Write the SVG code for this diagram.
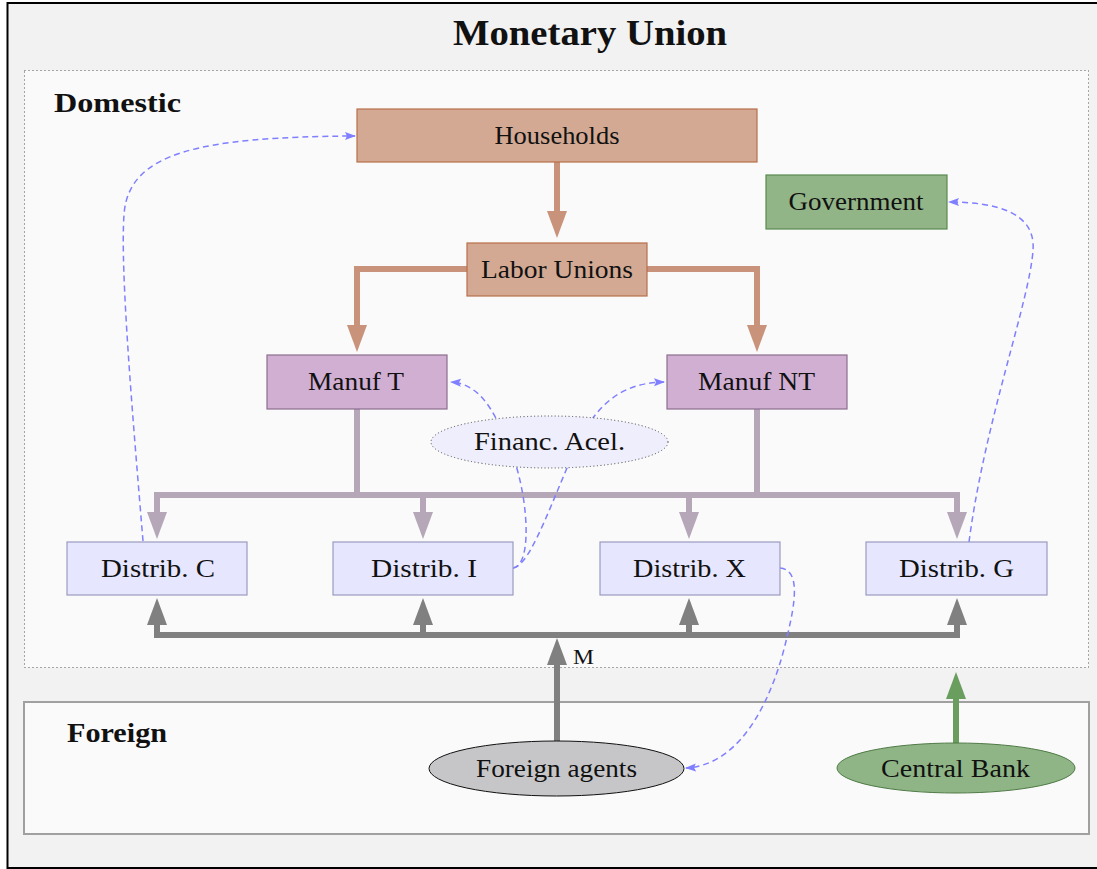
<svg xmlns="http://www.w3.org/2000/svg" width="1097" height="869" viewBox="0 0 1097 869">
<defs>
<style>
.t{font-family:"Liberation Serif","Times New Roman",serif;font-size:25px;fill:#111;text-anchor:middle}
.b{font-family:"Liberation Serif","Times New Roman",serif;font-weight:bold;fill:#111}
.hh{fill:#d3a993;stroke:#b8704a;stroke-width:1.2}
.mf{fill:#d1afd3;stroke:#8a6f8c;stroke-width:1.2}
.ds{fill:#e6e6fe;stroke:#9a9ac0;stroke-width:1.2}
.gv{fill:#92b588;stroke:#5a8a50;stroke-width:1.2}
.br{fill:none;stroke:#c8937a;stroke-width:6;stroke-linejoin:miter}
.pu{fill:none;stroke:#b5a6b8;stroke-width:6;stroke-linejoin:miter}
.gr{fill:none;stroke:#808080;stroke-width:6;stroke-linejoin:miter}
.gn{fill:none;stroke:#6a9e5e;stroke-width:6}
.bl{fill:none;stroke:#7f7fff;stroke-width:1.5;stroke-dasharray:6 4}
</style>
<marker id="aBr" markerUnits="userSpaceOnUse" markerWidth="28" markerHeight="22" refX="12" refY="10" orient="auto" viewBox="0 0 28 22"><path d="M0,0 L27,10 L0,20 z" fill="#c8937a"/></marker>
<marker id="aPu" markerUnits="userSpaceOnUse" markerWidth="28" markerHeight="22" refX="12" refY="10" orient="auto" viewBox="0 0 28 22"><path d="M0,0 L27,10 L0,20 z" fill="#b5a6b8"/></marker>
<marker id="aGr" markerUnits="userSpaceOnUse" markerWidth="28" markerHeight="22" refX="12" refY="10" orient="auto" viewBox="0 0 28 22"><path d="M0,0 L27,10 L0,20 z" fill="#808080"/></marker>
<marker id="aGn" markerUnits="userSpaceOnUse" markerWidth="28" markerHeight="22" refX="12" refY="10" orient="auto" viewBox="0 0 28 22"><path d="M0,0 L27,10 L0,20 z" fill="#6a9e5e"/></marker>
<marker id="aBl" markerUnits="userSpaceOnUse" markerWidth="12" markerHeight="9" refX="10" refY="4" orient="auto" viewBox="0 0 12 9"><path d="M0,0 L11,4 L0,8 L2,4 z" fill="#7f7fff"/></marker>
</defs>

<g id="frame">
<rect x="7.5" y="3" width="1100" height="865" fill="#f2f2f2" stroke="#000" stroke-width="2"/>
<text class="b" x="590" y="45" font-size="35" text-anchor="middle" textLength="274" lengthAdjust="spacingAndGlyphs">Monetary Union</text>
</g>

<g id="domestic">
<rect x="24.5" y="70.5" width="1064" height="597" fill="#fafafa" stroke="#555" stroke-width="1" stroke-dasharray="1 3"/>
<text class="b" x="54" y="112" font-size="27" textLength="127" lengthAdjust="spacingAndGlyphs">Domestic</text>
</g>

<g id="foreign">
<rect x="24" y="702" width="1065" height="132" fill="#fafafa" stroke="#a0a0a0" stroke-width="2"/>
<text class="b" x="67" y="742" font-size="27" textLength="100" lengthAdjust="spacingAndGlyphs">Foreign</text>
</g>

<g id="connectors">
<path class="br" d="M557,162 V223" marker-end="url(#aBr)"/>
<path class="br" d="M467,269 H357 V337" marker-end="url(#aBr)"/>
<path class="br" d="M647,269 H757 V337" marker-end="url(#aBr)"/>

<path class="pu" d="M357,409 V495"/>
<path class="pu" d="M757,409 V495"/>
<path class="pu" d="M557,495 H157 V524" marker-end="url(#aPu)"/>
<path class="pu" d="M557,495 H957 V524" marker-end="url(#aPu)"/>
<path class="pu" d="M423,495 V524" marker-end="url(#aPu)"/>
<path class="pu" d="M689,495 V524" marker-end="url(#aPu)"/>

<path class="gr" d="M557,635 H157 V613" marker-end="url(#aGr)"/>
<path class="gr" d="M557,635 H957 V613" marker-end="url(#aGr)"/>
<path class="gr" d="M423,635 V613" marker-end="url(#aGr)"/>
<path class="gr" d="M689,635 V613" marker-end="url(#aGr)"/>
<path class="gr" d="M557,741 V653" marker-end="url(#aGr)"/>
<text x="573" y="664" font-family="Liberation Serif, Times New Roman, serif" font-size="22" fill="#111" textLength="21" lengthAdjust="spacingAndGlyphs">M</text>

<path class="gn" d="M956,743 V687" marker-end="url(#aGn)"/>

<path class="bl" d="M143,541 C133,420 120,270 124,215 C128,152 200,137 355,136" marker-end="url(#aBl)"/>
<path class="bl" d="M969,542 C985,420 1030,300 1033,250 C1036,212 995,202 949,202" marker-end="url(#aBl)"/>
<path class="bl" d="M513,568 C535,565 527,480 506,440 C495,415 482,384 451,382" marker-end="url(#aBl)"/>
<path class="bl" d="M513,568 C528,566 545,520 567,468 C585,425 605,383 664,382" marker-end="url(#aBl)"/>
<path class="bl" d="M780,568 C800,570 796,600 787,637 C775,690 745,765 686,768" marker-end="url(#aBl)"/>
</g>

<g id="households">
<rect class="hh" x="357" y="109" width="400" height="53"/>
<text class="t" x="557" y="144" textLength="125" lengthAdjust="spacingAndGlyphs">Households</text>
</g>
<g id="labor-unions">
<rect class="hh" x="467" y="243" width="180" height="53"/>
<text class="t" x="557" y="278" textLength="152" lengthAdjust="spacingAndGlyphs">Labor Unions</text>
</g>
<g id="government">
<rect class="gv" x="766" y="175" width="181" height="54"/>
<text class="t" x="856" y="210" textLength="135" lengthAdjust="spacingAndGlyphs">Government</text>
</g>
<g id="manuf-t">
<rect class="mf" x="267" y="355" width="180" height="54"/>
<text class="t" x="356" y="390" textLength="96" lengthAdjust="spacingAndGlyphs">Manuf T</text>
</g>
<g id="manuf-nt">
<rect class="mf" x="667" y="355" width="180" height="54"/>
<text class="t" x="756.5" y="390" textLength="117" lengthAdjust="spacingAndGlyphs">Manuf NT</text>
</g>
<g id="financ-acel">
<ellipse cx="549.5" cy="442" rx="118.5" ry="26" fill="#eeeefc" stroke="#444" stroke-width="1" stroke-dasharray="1 2.5"/>
<text class="t" x="549.5" y="450" textLength="151" lengthAdjust="spacingAndGlyphs">Financ. Acel.</text>
</g>
<g id="distrib-c">
<rect class="ds" x="67" y="542" width="180" height="53"/>
<text class="t" x="158" y="577" textLength="114" lengthAdjust="spacingAndGlyphs">Distrib. C</text>
</g>
<g id="distrib-i">
<rect class="ds" x="333" y="542" width="180" height="53"/>
<text class="t" x="424" y="577" textLength="106" lengthAdjust="spacingAndGlyphs">Distrib. I</text>
</g>
<g id="distrib-x">
<rect class="ds" x="600" y="542" width="180" height="53"/>
<text class="t" x="689.5" y="577" textLength="113" lengthAdjust="spacingAndGlyphs">Distrib. X</text>
</g>
<g id="distrib-g">
<rect class="ds" x="866" y="542" width="181" height="53"/>
<text class="t" x="956.5" y="577" textLength="115" lengthAdjust="spacingAndGlyphs">Distrib. G</text>
</g>
<g id="foreign-agents">
<ellipse cx="556.5" cy="768.5" rx="127.5" ry="27.5" fill="#c6c6c8" stroke="#111" stroke-width="1"/>
<text class="t" x="556.5" y="777" textLength="161" lengthAdjust="spacingAndGlyphs">Foreign agents</text>
</g>
<g id="central-bank">
<ellipse cx="956" cy="768" rx="119" ry="25" fill="#8fb586" stroke="#4f7a45" stroke-width="1"/>
<text class="t" x="955.5" y="776.5" textLength="149" lengthAdjust="spacingAndGlyphs">Central Bank</text>
</g>
</svg>
